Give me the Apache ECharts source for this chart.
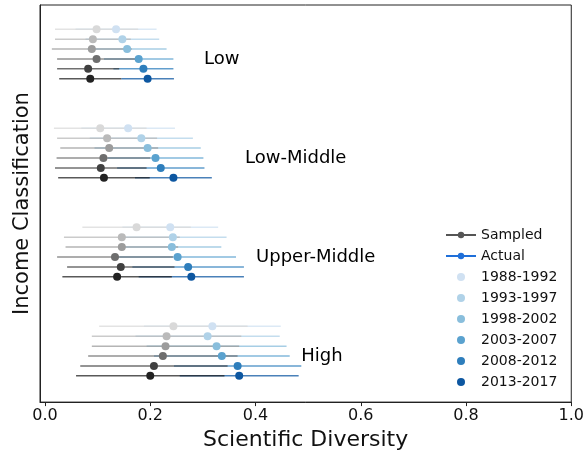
<!DOCTYPE html>
<html>
<head>
<meta charset="utf-8">
<script src="https://cdn.jsdelivr.net/npm/echarts@6/dist/echarts.min.js"></script>
<style>
  html, body { margin: 0; padding: 0; background: #fff; }
  #chart { width: 587px; height: 456px; }
</style>
</head>
<body>
<div id="chart"></div>
<script>
var groups = ["Low", "Low-Middle", "Upper-Middle", "High"]
var periods = ["1988-1992", "1993-1997", "1998-2002", "2003-2007", "2008-2012", "2013-2017"]
var xTicks = [0, 0.2, 0.4, 0.6, 0.8, 1.0]

// rows = groups (Low .. High), columns = periods
var sampledMean = [
    [0.098, 0.091, 0.089, 0.098, 0.082, 0.086],
    [0.105, 0.118, 0.122, 0.111, 0.106, 0.112],
    [0.174, 0.146, 0.146, 0.133, 0.144, 0.137],
    [0.244, 0.231, 0.229, 0.224, 0.207, 0.200]
]
var sampledErr = [
    [0.079, 0.072, 0.076, 0.075, 0.059, 0.059],
    [0.088, 0.095, 0.093, 0.089, 0.087, 0.087],
    [0.103, 0.110, 0.107, 0.110, 0.102, 0.104],
    [0.141, 0.142, 0.140, 0.142, 0.140, 0.141]
]
var actualMean = [
    [0.135, 0.147, 0.156, 0.178, 0.187, 0.195],
    [0.158, 0.183, 0.195, 0.210, 0.220, 0.244],
    [0.238, 0.243, 0.241, 0.252, 0.272, 0.278],
    [0.318, 0.309, 0.326, 0.336, 0.366, 0.369]
]
var actualErr = [
    [0.077, 0.070, 0.075, 0.066, 0.057, 0.050],
    [0.089, 0.098, 0.101, 0.091, 0.083, 0.073],
    [0.091, 0.102, 0.094, 0.111, 0.106, 0.100],
    [0.130, 0.137, 0.133, 0.129, 0.121, 0.113]
]
// x position of the group name text
var labelX = [0.302, 0.380, 0.401, 0.487]

var greys = ["#d9d9d9", "#bababa", "#9c9c9c", "#6e6e6e", "#404040", "#222222"]
var blues = ["#d0e1f2", "#b0d2e8", "#89bedc", "#5aa2cf", "#2e7ebc", "#0d57a1"]
var font = "DejaVu Sans"

function rowY(g, p) {
    return g + (p - 2.5) * 0.1
}

function barSeries(mean, err, p, color, name) {
    var data = []
    for (var g = 0; g < groups.length; g++) {
        data.push([mean[g][p], err[g][p], rowY(g, p)])
    }
    return {
        type: "custom",
        name: name,
        z: 1,
        silent: true,
        encode: { x: 0, y: 2 },
        data: data,
        renderItem: function (params, api) {
            var lo = api.coord([api.value(0) - api.value(1), api.value(2)])
            var hi = api.coord([api.value(0) + api.value(1), api.value(2)])
            return {
                type: "line",
                shape: { x1: lo[0], y1: lo[1], x2: hi[0], y2: hi[1] },
                style: { stroke: color, lineWidth: 1.5, opacity: 0.75 }
            }
        }
    }
}

function pointSeries(mean, p, color, name) {
    var data = []
    for (var g = 0; g < groups.length; g++) {
        data.push([mean[g][p], rowY(g, p)])
    }
    return {
        type: "scatter",
        name: name,
        z: 3,
        symbolSize: 8,
        itemStyle: { color: color, opacity: 1 },
        data: data
    }
}

var series = []
for (var p = 0; p < periods.length; p++) {
    series.push(barSeries(actualMean, actualErr, p, blues[p], "a-bar-" + p))
}
for (var p = 0; p < periods.length; p++) {
    series.push(barSeries(sampledMean, sampledErr, p, greys[p], "s-bar-" + p))
}
for (var p = 0; p < periods.length; p++) {
    series.push(pointSeries(sampledMean, p, greys[p], "s-pt-" + p))
    series.push(pointSeries(actualMean, p, blues[p], periods[p]))
}

// legend-only entries
series.push({ type: "line", name: "Sampled", data: [], symbol: "circle", symbolSize: 7,
    itemStyle: { color: "#555555" }, lineStyle: { color: "#555555", width: 2 } })
series.push({ type: "line", name: "Actual", data: [], symbol: "circle", symbolSize: 7,
    itemStyle: { color: "#1f6fd9" }, lineStyle: { color: "#1f6fd9", width: 2 } })

// group names
series.push({
    type: "scatter",
    name: "group-names",
    symbolSize: 0,
    silent: true,
    itemStyle: { opacity: 1 },
    data: groups.map(function (name, g) { return { value: [labelX[g], g + 0.05], name: name } }),
    label: {
        show: true,
        position: "right",
        distance: 0,
        formatter: "{b}",
        fontFamily: font,
        fontSize: 18,
        color: "#000"
    }
})

var chart = echarts.init(document.getElementById("chart"))
var option = {
    animation: false,
    textStyle: { fontFamily: font },
    grid: {
        left: 40, right: 15, top: 5, bottom: 53,
        show: true, borderColor: "#222", borderWidth: 1
    },
    legend: {
        orient: "vertical",
        left: 440,
        top: 223,
        itemWidth: 30,
        itemHeight: 8,
        itemGap: 7,
        textStyle: { fontFamily: font, fontSize: 14, color: "#111" },
        data: ["Sampled", "Actual"].concat(periods.map(function (n) { return { name: n, icon: "circle" } }))
    },
    xAxis: {
        type: "value",
        min: -0.0095,
        max: 1.0,
        name: "Scientific Diversity",
        nameLocation: "middle",
        nameGap: 25,
        nameTextStyle: { fontFamily: font, fontSize: 22, color: "#111" },
        splitLine: { show: false },
        axisLine: { show: true, onZero: false, lineStyle: { color: "#222" } },
        axisTick: { show: true, length: 4, customValues: xTicks, lineStyle: { color: "#222" } },
        axisLabel: {
            customValues: xTicks,
            formatter: function (v) { return v.toFixed(1) },
            fontFamily: font, fontSize: 16, color: "#111", margin: 6
        }
    },
    yAxis: {
        type: "value",
        inverse: true,
        min: -0.495,
        max: 3.515,
        name: "Income Classification",
        nameLocation: "middle",
        nameGap: 7,
        nameTextStyle: { fontFamily: font, fontSize: 21, color: "#111" },
        splitLine: { show: false },
        axisLine: { show: true, onZero: false, lineStyle: { color: "#222" } },
        axisTick: { show: false },
        axisLabel: { show: false }
    },
    series: series
}
chart.setOption(option)
</script>
</body>
</html>
